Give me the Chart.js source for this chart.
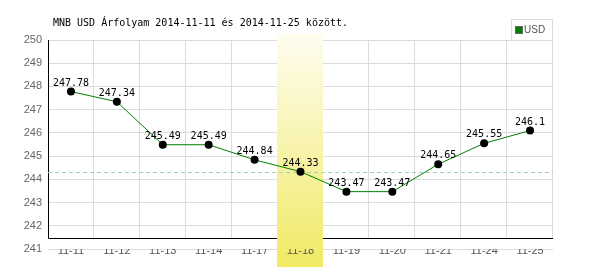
<!DOCTYPE html>
<html>
<head>
<meta charset="utf-8">
<script src="https://cdn.jsdelivr.net/npm/chart.js@4"></script>
<style>
  body { margin: 0; background: #fff; }
  #wrap { width: 600px; height: 270px; }
</style>
</head>
<body>
<div id="wrap"><canvas id="rateChart" width="600" height="270"></canvas></div>
<script>
// data
const dayLabels = ['11-11', '11-12', '11-13', '11-14', '11-17', '11-18', '11-19', '11-20', '11-21', '11-24', '11-25'];
const usdRates = [247.78, 247.34, 245.49, 245.49, 244.84, 244.33, 243.47, 243.47, 244.65, 245.55, 246.1];
const yTicks = [241, 242, 243, 244, 245, 246, 247, 248, 249, 250];
const titleText = 'MNB USD Árfolyam 2014-11-11 és 2014-11-25 között.';
const seriesName = 'USD';
const selectedDay = 5; // 11-18 highlighted
const refRate = 244.33;

const monoFont = '10px "DejaVu Sans Mono", monospace';

// own drawing: title, legend box, band, grid, axis lines, value labels
const decorPlugin = {
    id: 'decor',
    beforeDatasetsDraw(chart) {
        const ctx = chart.ctx;
        const area = chart.chartArea;
        const x = chart.scales.x;
        const y = chart.scales.y;
        const half = (x.getPixelForValue(1) - x.getPixelForValue(0)) / 2;
        const axisY = area.bottom - 11;

        // vertical grid lines
        ctx.save();
        ctx.strokeStyle = '#dcdcdc';
        ctx.lineWidth = 1;
        for (let i = 0; i < dayLabels.length; i++) {
            const gx = Math.round(x.getPixelForValue(i) + half) - 0.5;
            ctx.beginPath();
            ctx.moveTo(gx, area.top);
            ctx.lineTo(gx, axisY);
            ctx.stroke();
        }

        // black axis lines
        ctx.strokeStyle = '#000';
        ctx.lineWidth = 1;
        ctx.beginPath();
        ctx.moveTo(area.left + 0.5, area.top);
        ctx.lineTo(area.left + 0.5, axisY + 0.5);
        ctx.lineTo(area.right, axisY + 0.5);
        ctx.stroke();

        // highlighted day band
        const bx = x.getPixelForValue(selectedDay) - half;
        const grad = ctx.createLinearGradient(0, area.top - 6, 0, chart.height - 3);
        grad.addColorStop(0, '#fffdf0');
        grad.addColorStop(1, '#f0ea64');
        ctx.fillStyle = grad;
        ctx.fillRect(Math.round(bx) - 1, area.top - 6, Math.round(half * 2), chart.height - area.top + 3);

        // reference dashed line
        const ry = Math.round(y.getPixelForValue(refRate)) + 0.5;
        ctx.strokeStyle = '#a8d0a8';
        ctx.setLineDash([4, 3]);
        ctx.beginPath();
        ctx.moveTo(area.left, ry);
        ctx.lineTo(area.right, ry);
        ctx.stroke();
        ctx.setLineDash([]);
        ctx.restore();
    },
    afterDatasetsDraw(chart) {
        const ctx = chart.ctx;
        const meta = chart.getDatasetMeta(0);
        ctx.save();
        ctx.font = monoFont;
        ctx.fillStyle = '#000';
        ctx.textAlign = 'center';
        ctx.textBaseline = 'alphabetic';
        meta.data.forEach((pt, i) => {
            ctx.fillText(String(usdRates[i]), pt.x, pt.y - 6);
        });
        ctx.restore();
    },
    afterDraw(chart) {
        const ctx = chart.ctx;
        const area = chart.chartArea;
        ctx.save();
        // title
        ctx.font = monoFont;
        ctx.fillStyle = '#000';
        ctx.textAlign = 'left';
        ctx.textBaseline = 'middle';
        ctx.fillText(titleText, 53, 23);

        // legend box
        const lx = area.right - 42;
        ctx.fillStyle = '#fff';
        ctx.fillRect(lx, 19, 42, 21);
        ctx.strokeStyle = '#dcdcdc';
        ctx.lineWidth = 1;
        ctx.strokeRect(lx + 0.5, 19.5, 41, 21);
        ctx.fillStyle = '#008000';
        ctx.fillRect(lx + 5, 27, 6, 6);
        ctx.strokeStyle = '#666';
        ctx.strokeRect(lx + 4.5, 26.5, 7, 7);
        ctx.fillStyle = '#555';
        ctx.font = '10px "Liberation Sans", sans-serif';
        ctx.fillText(seriesName, lx + 13, 30.5);
        ctx.restore();
    }
};

const ctx = document.getElementById('rateChart').getContext('2d');
const rateChart = new Chart(ctx, {
    type: 'line',
    data: {
        labels: dayLabels,
        datasets: [{
            label: seriesName,
            data: usdRates,
            borderColor: '#008000',
            borderWidth: 1,
            pointRadius: 4,
            pointHoverRadius: 4,
            pointBackgroundColor: '#000',
            pointBorderWidth: 0,
            tension: 0,
            fill: false
        }]
    },
    options: {
        responsive: false,
        animation: false,
        events: [],
        layout: { padding: { left: 0, right: 47, top: 40, bottom: 0 } },
        plugins: {
            legend: { display: false },
            title: { display: false },
            tooltip: { enabled: false }
        },
        scales: {
            x: {
                offset: true,
                grid: { display: false },
                border: { display: false },
                ticks: {
                    color: '#555',
                    font: { family: '"Liberation Sans", sans-serif', size: 11 },
                    padding: -13,
                    maxRotation: 0,
                    autoSkip: false,
                    z: 1
                },
                afterFit(scale) { scale.height = 21; }
            },
            y: {
                min: 241,
                max: 250,
                afterBuildTicks(scale) { scale.ticks = yTicks.map(v => ({ value: v })); },
                grid: { color: '#dcdcdc', drawTicks: false },
                border: { display: false },
                ticks: {
                    color: '#666',
                    font: { family: '"Liberation Sans", sans-serif', size: 11 },
                    padding: 6
                },
                afterFit(scale) { scale.width = 48; }
            }
        }
    },
    plugins: [decorPlugin]
});
</script>
</body>
</html>
